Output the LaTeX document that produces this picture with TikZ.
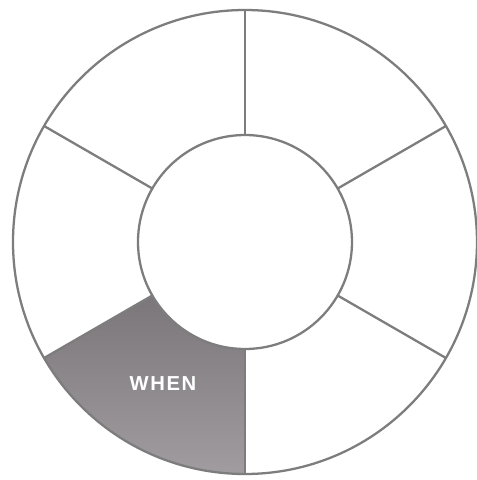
\documentclass[tikz,border=0pt]{standalone}
\usepackage{fontspec}
\setsansfont{Liberation Sans}
\usepackage{tikz}
\usetikzlibrary{positioning,calc}
\definecolor{WheelLine}{RGB}{125,125,125}
\definecolor{WheelDark}{RGB}{122,118,121}
\definecolor{WheelLight}{RGB}{160,156,160}

\begin{document}
\begin{tikzpicture}[%
      ringline/.style={draw=WheelLine, line width=1.3pt},
      spoke/.style={draw=WheelLine, line width=1.3pt},
      label/.style={text=white, font=\sffamily\bfseries\fontsize{11.5}{13}\selectfont\addfontfeature{LetterSpace=8}}
    ]
      % Frame
      \useasboundingbox (-4.9,-4.76) rectangle (4.64,4.84);
      \fill[white] (-4.9,-4.76) rectangle (4.64,4.84);
      \coordinate (hub) at (0,0);

      % Shaded segment
      \shade[top color=WheelDark, bottom color=WheelLight]
        (210:2.14) -- (210:4.64) arc (210:270:4.64) -- (270:2.14) arc (270:210:2.14) -- cycle;

      % Rings
      \draw[ringline] (hub) circle (4.64);
      \draw[ringline] (hub) circle (2.14);

      % Spokes
      \foreach \ang in {30,90,150,210,270,330}
        \draw[spoke] (\ang:2.14) -- (\ang:4.64);

      % Label
      \node[label] (when) at (-1.64,-2.84) {WHEN};
    \end{tikzpicture}
\end{document}
